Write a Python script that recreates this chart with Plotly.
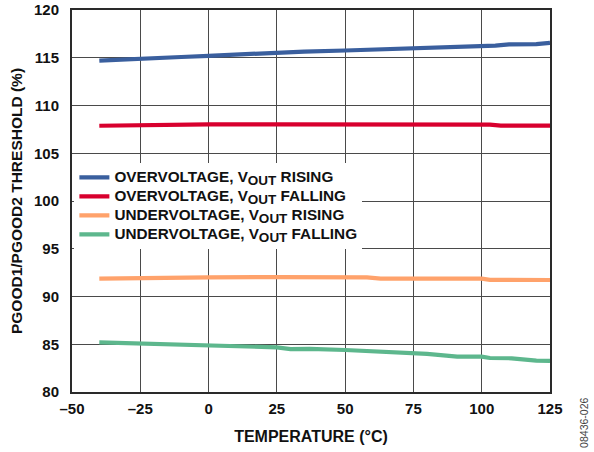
import plotly.graph_objects as go

# Data
ov_rise_t = [-40, -25, -10, 0, 10, 25, 35, 50, 60, 75, 90, 95, 100, 105, 110, 120, 125]
ov_rise_v = [114.7, 114.93, 115.08, 115.2, 115.35, 115.55, 115.65, 115.76, 115.85, 116.0, 116.05, 116.2, 116.25, 116.28, 116.4, 116.42, 116.55]

ov_fall_t = [-40, -25, 0, 25, 50, 75, 100, 103, 107, 125]
ov_fall_v = [107.88, 107.95, 108.02, 108.03, 108.03, 108.03, 108.03, 108.0, 107.9, 107.9]

uv_rise_t = [-40, -25, 0, 25, 50, 58, 63, 75, 100, 103, 125]
uv_rise_v = [91.87, 91.94, 92.0, 92.03, 92.0, 92.0, 91.87, 91.87, 91.87, 91.74, 91.73]

uv_fall_t = [-40, -25, 0, 25, 30, 37, 50, 75, 80, 91, 100, 103, 111, 120, 125]
uv_fall_v = [85.2, 85.08, 84.88, 84.68, 84.5, 84.52, 84.4, 84.02, 84.0, 83.7, 83.7, 83.56, 83.53, 83.28, 83.25]

series_labels = [
    ("OVERVOLTAGE, V", "OUT", " RISING"),
    ("OVERVOLTAGE, V", "OUT", " FALLING"),
    ("UNDERVOLTAGE, V", "OUT", " RISING"),
    ("UNDERVOLTAGE, V", "OUT", " FALLING"),
]
series_colors = ["#3A5F9E", "#D8002E", "#FFA26B", "#5DB78D"]

x_tickvals = [-50, -25, 0, 25, 50, 75, 100, 125]
x_ticktext = ["–50", "–25", "0", "25", "50", "75", "100", "125"]
y_tickvals = [80, 85, 90, 95, 100, 105, 110, 115, 120]


def legend_name(parts):
    a, s, b = parts
    return ("<span style='font-size:15.3px'>" + a +
            "<sub><span style='font-size:13.5px'>" + s + "</span></sub>" + b + "</span>")


fig = go.Figure()
for t, v, parts, col in zip(
    [ov_rise_t, ov_fall_t, uv_rise_t, uv_fall_t],
    [ov_rise_v, ov_fall_v, uv_rise_v, uv_fall_v],
    series_labels, series_colors,
):
    fig.add_trace(go.Scatter(x=t, y=v, mode="lines", name=legend_name(parts),
                             line=dict(color=col, width=4.2)))

font_family = "Liberation Sans, Arial, sans-serif"
axis_common = dict(
    showgrid=True, gridcolor="#4a4a4a", gridwidth=1.3,
    showline=True, linecolor="#2a2a2a", linewidth=2, mirror=True,
    zeroline=False, ticks="", automargin=False,
    tickfont=dict(family=font_family, size=15, color="#111", weight="bold"),
)

fig.update_layout(
    width=594, height=452,
    margin=dict(l=72, r=44, t=10, b=60, autoexpand=False),
    paper_bgcolor="white", plot_bgcolor="white",
    showlegend=True,
    legend=dict(
        x=0.005, y=0.6, xanchor="left", yanchor="top",
        bgcolor="white", borderwidth=0,
        font=dict(family=font_family, size=12, color="#111", weight="bold"),
        tracegroupgap=0, itemwidth=30,
    ),
    xaxis=dict(
        range=[-50, 125], tickvals=x_tickvals, ticktext=x_ticktext,
        ticklabelstandoff=2,
        title=dict(text="TEMPERATURE (°C)", standoff=15,
                   font=dict(family=font_family, size=16, color="#111", weight="bold")),
        **axis_common,
    ),
    yaxis=dict(
        range=[80, 120], tickvals=y_tickvals,
        ticklabelstandoff=8,
        title=dict(text="PGOOD1/PGOOD2 THRESHOLD (%)", standoff=8,
                   font=dict(family=font_family, size=15.5, color="#111", weight="bold")),
        **axis_common,
    ),
)

fig.add_annotation(
    text="08436-026", xref="paper", yref="paper",
    x=1.071, y=-0.081, xanchor="center", yanchor="middle",
    textangle=-90, showarrow=False,
    font=dict(family=font_family, size=10.5, color="#444"),
)

# remove the default 8px body margin of the page so the figure sits at (0, 0)
fig.write_html("out.html", config={"displayModeBar": False},
               post_script="document.body.style.margin='0';")
